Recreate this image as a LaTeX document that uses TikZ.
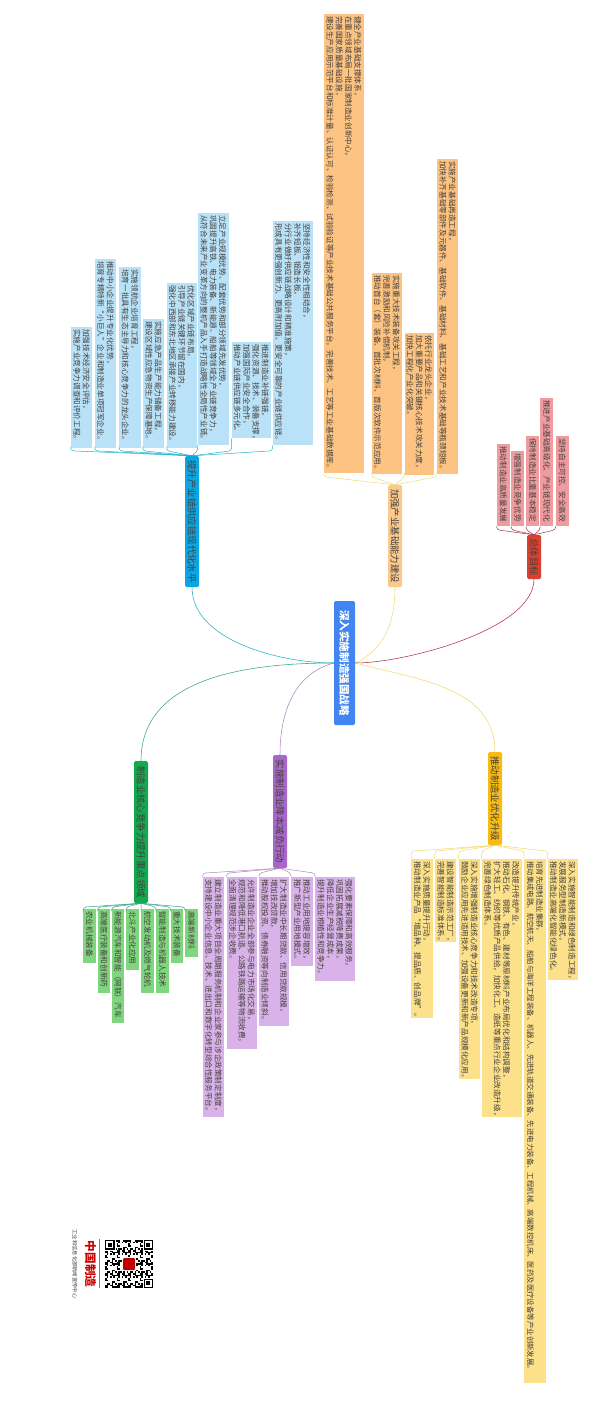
\documentclass[tikz,border=0pt]{standalone}
\usepackage{fontspec}
\setmainfont{Noto Sans CJK SC}
\definecolor{rootfill}{HTML}{4285F0}
\definecolor{cyanfill}{HTML}{0CA6E4}
\definecolor{cyanleaf}{HTML}{B9E1F7}
\definecolor{cyanline}{HTML}{1FB3C8}
\definecolor{orangefill}{HTML}{FBC98C}
\definecolor{orangeleaf}{HTML}{FCC382}
\definecolor{orangeline}{HTML}{EEDC72}
\definecolor{redfill}{HTML}{D8402F}
\definecolor{redleaf}{HTML}{EE9CA0}
\definecolor{redline}{HTML}{B23048}
\definecolor{yellowfill}{HTML}{F7BC12}
\definecolor{yellowleaf}{HTML}{FCE08A}
\definecolor{yellowline}{HTML}{F0DA6C}
\definecolor{purplefill}{HTML}{A866C9}
\definecolor{purpleleaf}{HTML}{D8B2E8}
\definecolor{purpleline}{HTML}{AE86BE}
\definecolor{greenfill}{HTML}{12A94F}
\definecolor{greenleaf}{HTML}{7FD67E}
\definecolor{greenline}{HTML}{35A585}
\definecolor{inkgray}{HTML}{44403C}
\tikzset{
    rootbox/.style={rotate=-90, fill=rootfill, text=white, rounded corners=1.5pt, inner sep=0pt,
        minimum width=124pt, minimum height=21pt, font=\fontsize{10.6}{12}\selectfont\bfseries},
    headbox/.style={rotate=-90, rounded corners=1.5pt, inner sep=0pt, minimum height=14pt,
        minimum width=#1pt, text=inkgray, font=\fontsize{9.4}{11}\selectfont},
    leaf/.style 2 args={rotate=-90, anchor=north west, align=left, inner xsep=2pt, inner ysep=0pt,
        text width=\dimexpr#1pt-4pt\relax, minimum height=#2pt, text=inkgray,
        font=\fontsize{7.6}{9.3}\selectfont},
    mainlink/.style={line width=.55pt},
    twig/.style={line width=.5pt, rounded corners=3pt}
}
\begin{document}
\begin{tikzpicture}[x=1pt,y=-1pt]
    \useasboundingbox (0,0) rectangle (600,1407);

    \node[rootbox] (root) at (344.5,663) {深入实施制造强国战略};

    \node[headbox=131, fill=cyanfill] (cyanhead) at (192,521.5) {提升产业链供应链现代化水平};
    \node[headbox=102, fill=orangefill] (orangehead) at (395,536) {加强产业基础能力建设};
    \node[headbox=44, fill=redfill] (redhead) at (534,557) {总体目标};
    \node[headbox=93, fill=yellowfill] (yellowhead) at (495,798.5) {推动制造业优化升级};
    \node[headbox=113, fill=purplefill] (purplehead) at (280,811.5) {实施制造业降本减负行动};
    \node[headbox=142, fill=greenfill] (greenhead) at (141,832) {制造业核心竞争力提升重点领域};

    \draw[mainlink, cyanline] (root.south) to[out=180, in=-90, looseness=.85] (cyanhead.east);
    \draw[mainlink, orangeline] (root.north) to[out=25, in=-90] (orangehead.east);
    \draw[mainlink, redline] (root.north) to[out=0, in=-90, looseness=.65] (redhead.east);
    \draw[mainlink, yellowline] (root.north) to[out=-15, in=90] (yellowhead.west);
    \draw[mainlink, purpleline] (root.south) to[out=195, in=90] (purplehead.west);
    \draw[mainlink, greenline] (root.south) to[out=180, in=90] (greenhead.west);

    \node[leaf={459}{40}, fill=orangeleaf] (a1) at (364,14) {健全产业基础支撑体系，\\在重点领域布局一批国家制造业创新中心，\\完善国家质量基础设施，\\建设生产应用示范平台和标准计量、认证认可、检验检测、试验验证等产业技术基础公共服务平台，完善技术、工艺等工业基础数据库。};
    \node[leaf={201}{30}, fill=orangeleaf] (a2) at (402,273) {实施重大技术装备攻关工程，\\完善激励和风险补偿机制，\\推动首台（套）装备、首批次材料、首版次软件示范应用。};
    \node[leaf={142}{29}, fill=orangeleaf] (a3) at (434,333) {依托行业龙头企业，\\加大重要产品和关键核心技术攻关力度，\\加快工程化产业化突破。};
    \node[leaf={315}{21.5}, fill=orangeleaf] (a4) at (458.5,159) {实施产业基础再造工程，\\加快补齐基础零部件及元器件、基础软件、基础材料、基础工艺和产业技术基础等瓶颈短板。};

    \draw[twig, orangeline] (orangehead.west) -- ([yshift=8pt]orangehead.west -| a1.south east) -- (a1.south east);
    \draw[twig, orangeline] (orangehead.west) -- ([yshift=8pt]orangehead.west -| a2.south east) -- (a2.south east);
    \draw[twig, orangeline] (orangehead.west) -- ([yshift=8pt]orangehead.west -| a3.south east) -- (a3.south east);
    \draw[twig, orangeline] (orangehead.west) -- ([yshift=8pt]orangehead.west -| a4.south east) -- (a4.south east);

    \node[leaf={121}{21.5}, fill=cyanleaf] (b1) at (92.5,327) {加强技术经济安全评估，\\实施产业竞争力调查和评价工程。};
    \node[leaf={189}{21.5}, fill=cyanleaf] (b2) at (116.5,259) {推动中小企业提升专业化优势，\\培育专精特新“小巨人”企业和制造业单项冠军企业。};
    \node[leaf={181}{21.5}, fill=cyanleaf] (b3) at (141,267) {实施领航企业培育工程，\\培育一批具有生态主导力和核心竞争力的龙头企业。};
    \node[leaf={129}{21.5}, fill=cyanleaf] (b4) at (164.5,319) {实施应急产品生产能力储备工程，\\建设区域性应急物资生产保障基地。};
    \node[leaf={165}{30}, fill=cyanleaf] (b5) at (197,283) {优化区域产业链布局，\\引导产业链关键环节留在国内，\\强化中西部和东北地区承接产业转移能力建设。};
    \node[leaf={232}{31}, fill=cyanleaf] (b6) at (229,213) {立足产业规模优势、配套优势和部分领域先发优势，\\巩固提升高铁、电力装备、新能源、船舶等领域全产业链竞争力，\\从符合未来产业变革方向的整机产品入手打造战略性全局性产业链。};
    \node[leaf={96}{39}, fill=cyanleaf] (b7) at (271,342) {推进制造业补链强链，\\强化资源、技术、装备支撑，\\加强国际产业安全合作，\\推动产业链供应链多元化。};
    \node[leaf={224}{40}, fill=cyanleaf] (b8) at (313,221) {坚持经济性和安全性相结合，\\补齐短板、锻造长板，\\分行业做好供应链战略设计和精准施策，\\形成具有更强创新力、更高附加值、更安全可靠的产业链供应链。};

    \draw[twig, cyanline] (cyanhead.west) -- ([yshift=5pt]cyanhead.west -| b1.south east) -- (b1.south east);
    \draw[twig, cyanline] (cyanhead.west) -- ([yshift=5pt]cyanhead.west -| b2.south east) -- (b2.south east);
    \draw[twig, cyanline] (cyanhead.west) -- ([yshift=5pt]cyanhead.west -| b3.south east) -- (b3.south east);
    \draw[twig, cyanline] (cyanhead.west) -- ([yshift=5pt]cyanhead.west -| b4.south east) -- (b4.south east);
    \draw[twig, cyanline] (cyanhead.west) -- ([yshift=5pt]cyanhead.west -| b5.south east) -- (b5.south east);
    \draw[twig, cyanline] (cyanhead.west) -- ([yshift=5pt]cyanhead.west -| b6.south east) -- (b6.south east);
    \draw[twig, cyanline] (cyanhead.west) -- ([yshift=5pt]cyanhead.west -| b7.south east) -- (b7.south east);
    \draw[twig, cyanline] (cyanhead.west) -- ([yshift=5pt]cyanhead.west -| b8.south east) -- (b8.south east);

    \node[leaf={82}{13}, fill=redleaf] (r1) at (510,444) {推动制造业高质量发展};
    \node[leaf={75}{13}, fill=redleaf] (r2) at (524.5,451) {增强制造业竞争优势};
    \node[leaf={90}{13}, fill=redleaf] (r3) at (539.5,436) {保持制造业比重基本稳定};
    \node[leaf={128}{13}, fill=redleaf] (r4) at (553.5,398) {推进产业基础高级化、产业链现代化};
    \node[leaf={90}{13}, fill=redleaf] (r5) at (569,436) {坚持自主可控、安全高效};

    \draw[twig, redline] (redhead.west) -- ([yshift=5pt]redhead.west -| r1.south east) -- (r1.south east);
    \draw[twig, redline] (redhead.west) -- ([yshift=5pt]redhead.west -| r2.south east) -- (r2.south east);
    \draw[twig, redline] (redhead.west) -- ([yshift=5pt]redhead.west -| r3.south east) -- (r3.south east);
    \draw[twig, redline] (redhead.west) -- ([yshift=5pt]redhead.west -| r4.south east) -- (r4.south east);
    \draw[twig, redline] (redhead.west) -- ([yshift=5pt]redhead.west -| r5.south east) -- (r5.south east);

    \node[leaf={159}{21.5}, fill=yellowleaf] (y1) at (433,859) {深入实施质量提升行动，\\推动制造业产品“增品种、提品质、创品牌”。};
    \node[leaf={83}{21.5}, fill=yellowleaf] (y2) at (456.5,859) {建设智能制造示范工厂，\\完善智能制造标准体系。};
    \node[leaf={220}{21.5}, fill=yellowleaf] (y3) at (480.5,859) {深入实施增强制造业核心竞争力和技术改造专项，\\鼓励企业应用先进适用技术、加强设备更新和新产品规模化应用。};
    \node[leaf={258}{40}, fill=yellowleaf] (y4) at (522,859) {改造提升传统产业，\\推动石化、钢铁、有色、建材等原材料产业布局优化和结构调整，\\扩大轻工、纺织等优质产品供给，加快化工、造纸等重点行业企业改造升级，\\完善绿色制造体系。};
    \node[leaf={524}{21.5}, fill=yellowleaf, font=\fontsize{7.42}{9.3}\selectfont] (y5) at (546,859) {培育先进制造业集群，\\推动集成电路、航空航天、船舶与海洋工程装备、机器人、先进轨道交通装备、先进电力装备、工程机械、高端数控机床、医药及医疗设备等产业创新发展。};
    \node[leaf={121}{30}, fill=yellowleaf] (y6) at (578,859) {深入实施智能制造和绿色制造工程，\\发展服务型制造新模式，\\推动制造业高端化智能化绿色化。};

    \draw[twig, yellowline] (yellowhead.east) -- ([yshift=-6pt]yellowhead.east -| y1.south west) -- (y1.south west);
    \draw[twig, yellowline] (yellowhead.east) -- ([yshift=-6pt]yellowhead.east -| y2.south west) -- (y2.south west);
    \draw[twig, yellowline] (yellowhead.east) -- ([yshift=-6pt]yellowhead.east -| y3.south west) -- (y3.south west);
    \draw[twig, yellowline] (yellowhead.east) -- ([yshift=-6pt]yellowhead.east -| y4.south west) -- (y4.south west);
    \draw[twig, yellowline] (yellowhead.east) -- ([yshift=-6pt]yellowhead.east -| y5.south west) -- (y5.south west);
    \draw[twig, yellowline] (yellowhead.east) -- ([yshift=-6pt]yellowhead.east -| y6.south west) -- (y6.south west);

    \node[leaf={240}{21.5}, fill=purpleleaf] (p1) at (224.5,877) {建立制造业重大项目全周期服务机制和企业家参与涉企政策制定制度，\\支持建设中小企业信息、技术、进出口和数字化转型综合性服务平台。};
    \node[leaf={172}{30.5}, fill=purpleleaf] (p2) at (257.5,877) {允许制造业企业全部参与电力市场化交易，\\规范和降低港口航道、公路铁路运输等物流收费，\\全面清理规范涉企收费。};
    \node[leaf={149}{30}, fill=purpleleaf] (p3) at (289.5,877) {扩大制造业中长期贷款、信用贷款规模，\\增加技改贷款，\\推动股权投资、债券融资等向制造业倾斜。};
    \node[leaf={89}{21.5}, fill=purpleleaf] (p4) at (313,877) {推动工业用地提容增效，\\推广新型产业用地模式。};
    \node[leaf={104}{39.5}, fill=purpleleaf] (p5) at (355,877) {强化要素保障和高效服务，\\巩固拓展减税降费成果，\\降低企业生产经营成本，\\提升制造业根植性和竞争力。};

    \draw[twig, purpleline] (purplehead.east) -- ([yshift=-5pt]purplehead.east -| p1.south west) -- (p1.south west);
    \draw[twig, purpleline] (purplehead.east) -- ([yshift=-5pt]purplehead.east -| p2.south west) -- (p2.south west);
    \draw[twig, purpleline] (purplehead.east) -- ([yshift=-5pt]purplehead.east -| p3.south west) -- (p3.south west);
    \draw[twig, purpleline] (purplehead.east) -- ([yshift=-5pt]purplehead.east -| p4.south west) -- (p4.south west);
    \draw[twig, purpleline] (purplehead.east) -- ([yshift=-5pt]purplehead.east -| p5.south west) -- (p5.south west);

    \node[leaf={54}{12.5}, fill=greenleaf] (g1) at (96,909) {农业机械装备};
    \node[leaf={84}{12.5}, fill=greenleaf] (g2) at (110.5,909) {高端医疗装备和创新药};
    \node[leaf={114}{12.5}, fill=greenleaf] (g3) at (124.5,909) {新能源汽车和智能（网联）汽车};
    \node[leaf={61}{12.5}, fill=greenleaf] (g4) at (139,909) {北斗产业化应用};
    \node[leaf={84}{12.5}, fill=greenleaf] (g5) at (154,909) {航空发动机及燃气轮机};
    \node[leaf={84}{12.5}, fill=greenleaf] (g6) at (169,909) {智能制造与机器人技术};
    \node[leaf={54}{12.5}, fill=greenleaf] (g7) at (183.5,909) {重大技术装备};
    \node[leaf={48}{12.5}, fill=greenleaf] (g8) at (198,909) {高端新材料};

    \draw[twig, greenline] (greenhead.east) -- ([yshift=-4pt]greenhead.east -| g1.south west) -- (g1.south west);
    \draw[twig, greenline] (greenhead.east) -- ([yshift=-4pt]greenhead.east -| g2.south west) -- (g2.south west);
    \draw[twig, greenline] (greenhead.east) -- ([yshift=-4pt]greenhead.east -| g3.south west) -- (g3.south west);
    \draw[twig, greenline] (greenhead.east) -- ([yshift=-4pt]greenhead.east -| g4.south west) -- (g4.south west);
    \draw[twig, greenline] (greenhead.east) -- ([yshift=-4pt]greenhead.east -| g5.south west) -- (g5.south west);
    \draw[twig, greenline] (greenhead.east) -- ([yshift=-4pt]greenhead.east -| g6.south west) -- (g6.south west);
    \draw[twig, greenline] (greenhead.east) -- ([yshift=-4pt]greenhead.east -| g7.south west) -- (g7.south west);
    \draw[twig, greenline] (greenhead.east) -- ([yshift=-4pt]greenhead.east -| g8.south west) -- (g8.south west);

    \foreach \row in {0,...,28}
        \foreach \col in {0,...,28} {
            \pgfmathtruncatemacro{\cell}{mod(\row*\row*3+\col*\col*5+\row*\col*2+\col*3+\row,7)}
            \ifnum\cell<3
                \fill (105+\col*1.655,1240+\row*1.655) rectangle ++(1.655,1.655);
            \fi
        }
    \foreach \fx/\fy in {105/1240,143.5/1240,143.5/1278.5} {
        \fill[white] (\fx-1,\fy-1) rectangle ++(11.5,11.5);
        \fill (\fx,\fy) rectangle ++(9.5,9.5);
        \fill[white] (\fx+1.4,\fy+1.4) rectangle ++(6.7,6.7);
        \fill (\fx+2.8,\fy+2.8) rectangle ++(3.9,3.9);
    }
    \fill[white] (122,1257) rectangle (136,1271);
    \fill[red!75!black, rounded corners=1pt] (123,1258) rectangle (135,1270);
    \draw[line width=.4pt, gray] (99,1239) -- (99,1288);
    \node[rotate=-90, inner sep=0pt, text=red!80!black, font=\fontsize{11.6}{12}\selectfont\bfseries] (brand) at (90.5,1264) {中国制造};
    \node[rotate=-90, inner sep=0pt, text=inkgray, font=\fontsize{5.3}{6}\selectfont] (unit) at (75,1264) {工业和信息化部新闻宣传中心};
\end{tikzpicture}
\end{document}
